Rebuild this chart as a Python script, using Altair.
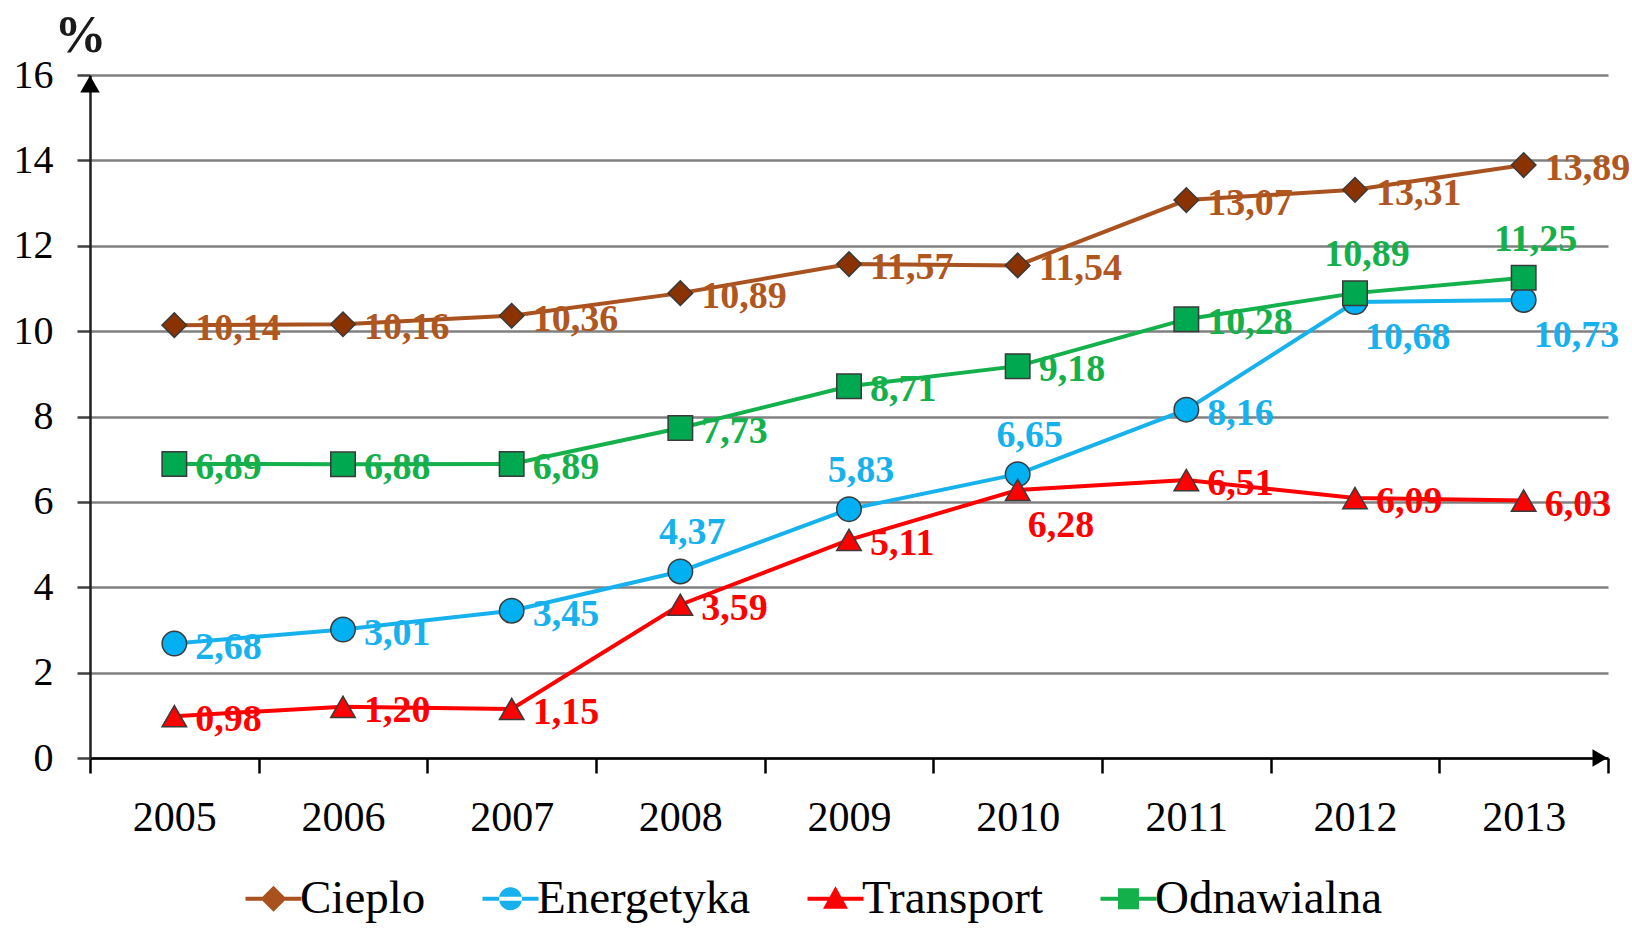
import altair as alt
import pandas as pd

years = ["2005", "2006", "2007", "2008", "2009", "2010", "2011", "2012", "2013"]
series_names = ["Cieplo", "Energetyka", "Transport", "Odnawialna"]

cieplo = [10.14, 10.16, 10.36, 10.89, 11.57, 11.54, 13.07, 13.31, 13.89]
energetyka = [2.68, 3.01, 3.45, 4.37, 5.83, 6.65, 8.16, 10.68, 10.73]
transport = [0.98, 1.20, 1.15, 3.59, 5.11, 6.28, 6.51, 6.09, 6.03]
odnawialna = [6.89, 6.88, 6.89, 7.73, 8.71, 9.18, 10.28, 10.89, 11.25]

# label placement per point: r = right, a = above, b = below-right
cieplo_pos = ["r", "r", "r", "r", "r", "r", "r", "r", "r"]
energetyka_pos = ["r", "r", "r", "a", "a", "a", "r", "b", "b"]
transport_pos = ["r", "r", "r", "r", "r", "b", "r", "r", "r"]
odnawialna_pos = ["r", "r", "r", "r", "r", "r", "r", "a", "a"]

y_ticks = [0, 2, 4, 6, 8, 10, 12, 14, 16]

line_colors = ["#A9521F", "#17B2EE", "#FF0000", "#14B04C"]
label_colors = ["#B0561F", "#17B2EE", "#FF0000", "#14B04C"]
marker_fills = ["#8B3300", "#00B0F0", "#FF0000", "#00A84F"]
marker_shapes = ["diamond", "circle", "triangle-up", "square"]

legend_paths = [
    "M-2.8,-0.2H2.8V0.2H-2.8Z M0,-1.3L1.3,0L0,1.3L-1.3,0Z",
    "M-2.8,-0.2H2.8V0.2H-2.8Z M-1.15,0A1.15,1.15 0 1,0 1.15,0A1.15,1.15 0 1,0 -1.15,0Z",
    "M-2.8,-0.2H2.8V0.2H-2.8Z M0,-1.25L1.25,1.0L-1.25,1.0Z",
    "M-2.8,-0.2H2.8V0.2H-2.8Z M-1.05,-1.05H1.05V1.05H-1.05Z",
]

values = [cieplo, energetyka, transport, odnawialna]
positions = [cieplo_pos, energetyka_pos, transport_pos, odnawialna_pos]

rows = []
for name, vals, poss, lc, tc in zip(series_names, values, positions, line_colors, label_colors):
    for yr, v, p in zip(years, vals, poss):
        rows.append({"year": yr, "series": name, "value": v, "pos": p,
                     "lineColor": lc, "labelColor": tc,
                     "label": f"{v:.2f}".replace(".", ",")})
df = pd.DataFrame(rows)

FONT = "Liberation Serif"

x_enc = alt.X(
    "year:O",
    scale=alt.Scale(type="band", domain=years, paddingInner=0, paddingOuter=0),
    axis=alt.Axis(title=None, tickBand="extent", labelAngle=0, labelFont=FONT,
                  labelFontSize=42, labelColor="#000000", labelPadding=24,
                  tickSize=15, tickWidth=2.5, tickColor="#000000",
                  domainColor="#000000", domainWidth=2.5, grid=False),
)
y_enc = alt.Y(
    "value:Q",
    scale=alt.Scale(domain=[0, 16], nice=False, zero=True),
    axis=alt.Axis(values=y_ticks, title="%", titleAngle=0, titleX=-10, titleY=-40,
                  titleAlign="center", titleBaseline="middle", titleFont=FONT,
                  titleFontSize=52, titleFontWeight="bold", titleColor="#1a1a1a",
                  labelFont=FONT, labelFontSize=40, labelColor="#000000",
                  labelPadding=24, tickSize=13, tickWidth=2.5, tickColor="#404040",
                  domainColor="#202020", domainWidth=2.5, grid=True,
                  gridColor="#808080", gridWidth=2.5),
)

base = alt.Chart(df)

lines = base.mark_line(strokeWidth=4).encode(
    x=x_enc, y=y_enc,
    color=alt.Color("lineColor:N", scale=None),
    detail="series:N",
)

marker_layers = []
for name, shape, fill in zip(series_names, marker_shapes, marker_fills):
    marker_layers.append(
        base.transform_filter(alt.datum.series == name).mark_point(
            shape=shape, filled=True, fill=fill, stroke="#3A3A3A",
            strokeWidth=1.5, size=600, opacity=1
        ).encode(x=x_enc, y=y_enc)
    )

text_common = dict(font=FONT, fontSize=38, fontWeight="bold", baseline="middle")
label_color = alt.Color("labelColor:N", scale=None)
labels_r = base.transform_filter(alt.datum.pos == "r").mark_text(
    align="left", dx=21, dy=4, **text_common
).encode(x=x_enc, y=y_enc, text="label:N", color=label_color)
labels_a = base.transform_filter(alt.datum.pos == "a").mark_text(
    align="center", dx=12, dy=-38, **text_common
).encode(x=x_enc, y=y_enc, text="label:N", color=label_color)
labels_b = base.transform_filter(alt.datum.pos == "b").mark_text(
    align="left", dx=10, dy=36, **text_common
).encode(x=x_enc, y=y_enc, text="label:N", color=label_color)

leg = alt.Legend(title=None, orient="none", legendX=160, legendY=800,
                 direction="horizontal", columns=4)
legend_layer = base.transform_filter("false").mark_point(
    filled=True, opacity=1
).encode(
    x=x_enc, y=y_enc,
    color=alt.Color("series:N", scale=alt.Scale(domain=series_names, range=line_colors),
                    legend=leg),
    shape=alt.Shape("series:N", scale=alt.Scale(domain=series_names, range=legend_paths),
                    legend=leg),
)

one_row = "datum.year == '2005' && datum.series == 'Cieplo'"
arrow_y = alt.Chart(df).transform_filter(one_row).mark_point(
    shape="triangle-up", filled=True, color="#000000", size=380, opacity=1
).encode(x=alt.value(0), y=alt.value(9))
arrow_x = alt.Chart(df).transform_filter(one_row).mark_point(
    shape="triangle-right", filled=True, color="#000000", size=300, opacity=1
).encode(x=alt.value(1510), y=alt.value(683))

chart = alt.layer(
    lines, *marker_layers, labels_r, labels_a, labels_b, legend_layer, arrow_y, arrow_x
).properties(
    width=1518, height=683,
    autosize=alt.AutoSizeParams(type="none"),
    padding={"left": 90, "top": 75, "right": 24, "bottom": 174},
    background="#ffffff",
).configure_view(strokeWidth=0).configure_legend(
    labelFont=FONT, labelFontSize=47, labelColor="#000000", symbolSize=400,
    labelOffset=3, columnPadding=56, padding=0, symbolStrokeWidth=0,
    labelLimit=0,
)

chart.save("out.html", embed_options={"renderer": "svg", "actions": False})
